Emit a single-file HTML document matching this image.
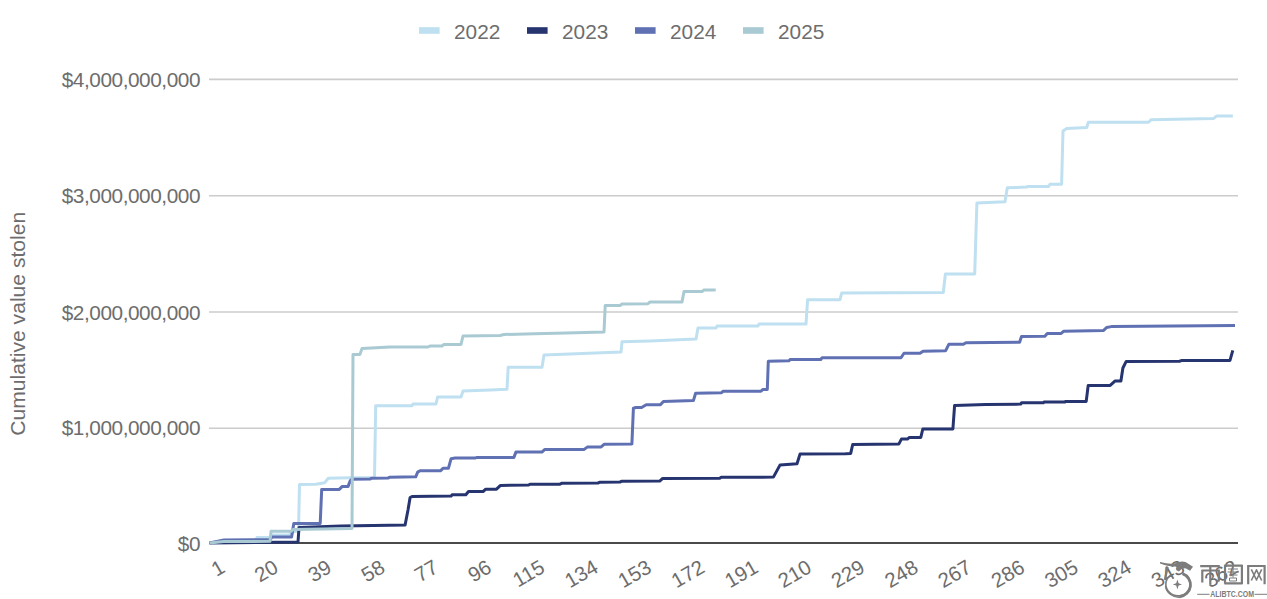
<!DOCTYPE html><html><head><meta charset="utf-8"><style>html,body{margin:0;padding:0;background:#fff;}svg{display:block;}text{font-family:"Liberation Sans",sans-serif;}</style></head><body>
<svg width="1267" height="599" viewBox="0 0 1267 599">
<rect width="1267" height="599" fill="#fff"/>
<line x1="209" y1="79.4" x2="1238" y2="79.4" stroke="#cccccc" stroke-width="1.6"/>
<line x1="209" y1="195.7" x2="1238" y2="195.7" stroke="#cccccc" stroke-width="1.6"/>
<line x1="209" y1="312.0" x2="1238" y2="312.0" stroke="#cccccc" stroke-width="1.6"/>
<line x1="209" y1="428.2" x2="1238" y2="428.2" stroke="#cccccc" stroke-width="1.6"/>
<text x="200" y="86.9" font-size="20.8" letter-spacing="-0.45" fill="#6d6d6d" text-anchor="end">$4,000,000,000</text>
<text x="200" y="203.3" font-size="20.8" letter-spacing="-0.45" fill="#6d6d6d" text-anchor="end">$3,000,000,000</text>
<text x="200" y="319.6" font-size="20.8" letter-spacing="-0.45" fill="#6d6d6d" text-anchor="end">$2,000,000,000</text>
<text x="200" y="435.3" font-size="20.8" letter-spacing="-0.45" fill="#6d6d6d" text-anchor="end">$1,000,000,000</text>
<text x="200" y="550.6" font-size="20.8" letter-spacing="-0.45" fill="#6d6d6d" text-anchor="end">$0</text>
<text transform="translate(24.8,323.8) rotate(-90)" font-size="21.1" fill="#6d6d6d" text-anchor="middle">Cumulative value stolen</text>
<rect x="419" y="27.2" width="20.6" height="6.6" fill="#bfe0f0"/>
<text x="454.0" y="38.7" font-size="20.8" fill="#6d6d6d">2022</text>
<rect x="527" y="27.2" width="20.6" height="6.6" fill="#26346f"/>
<text x="562.0" y="38.7" font-size="20.8" fill="#6d6d6d">2023</text>
<rect x="635" y="27.2" width="20.6" height="6.6" fill="#6071b3"/>
<text x="670.0" y="38.7" font-size="20.8" fill="#6d6d6d">2024</text>
<rect x="743" y="27.2" width="20.6" height="6.6" fill="#a9cad3"/>
<text x="778.0" y="38.7" font-size="20.8" fill="#6d6d6d">2025</text>
<text transform="translate(226.27,571.3) rotate(-30)" font-size="20.5" fill="#6d6d6d" text-anchor="end">1</text>
<text transform="translate(279.60,571.3) rotate(-30)" font-size="20.5" fill="#6d6d6d" text-anchor="end">20</text>
<text transform="translate(332.93,571.3) rotate(-30)" font-size="20.5" fill="#6d6d6d" text-anchor="end">39</text>
<text transform="translate(386.26,571.3) rotate(-30)" font-size="20.5" fill="#6d6d6d" text-anchor="end">58</text>
<text transform="translate(439.59,571.3) rotate(-30)" font-size="20.5" fill="#6d6d6d" text-anchor="end">77</text>
<text transform="translate(492.92,571.3) rotate(-30)" font-size="20.5" fill="#6d6d6d" text-anchor="end">96</text>
<text transform="translate(546.25,571.3) rotate(-30)" font-size="20.5" fill="#6d6d6d" text-anchor="end">115</text>
<text transform="translate(599.58,571.3) rotate(-30)" font-size="20.5" fill="#6d6d6d" text-anchor="end">134</text>
<text transform="translate(652.91,571.3) rotate(-30)" font-size="20.5" fill="#6d6d6d" text-anchor="end">153</text>
<text transform="translate(706.24,571.3) rotate(-30)" font-size="20.5" fill="#6d6d6d" text-anchor="end">172</text>
<text transform="translate(759.57,571.3) rotate(-30)" font-size="20.5" fill="#6d6d6d" text-anchor="end">191</text>
<text transform="translate(812.90,571.3) rotate(-30)" font-size="20.5" fill="#6d6d6d" text-anchor="end">210</text>
<text transform="translate(866.23,571.3) rotate(-30)" font-size="20.5" fill="#6d6d6d" text-anchor="end">229</text>
<text transform="translate(919.56,571.3) rotate(-30)" font-size="20.5" fill="#6d6d6d" text-anchor="end">248</text>
<text transform="translate(972.89,571.3) rotate(-30)" font-size="20.5" fill="#6d6d6d" text-anchor="end">267</text>
<text transform="translate(1026.22,571.3) rotate(-30)" font-size="20.5" fill="#6d6d6d" text-anchor="end">286</text>
<text transform="translate(1079.55,571.3) rotate(-30)" font-size="20.5" fill="#6d6d6d" text-anchor="end">305</text>
<text transform="translate(1132.88,571.3) rotate(-30)" font-size="20.5" fill="#6d6d6d" text-anchor="end">324</text>
<text transform="translate(1186.21,571.3) rotate(-30)" font-size="20.5" fill="#6d6d6d" text-anchor="end">343</text>
<text transform="translate(1239.54,571.3) rotate(-30)" font-size="20.5" fill="#6d6d6d" text-anchor="end">362</text>
<line x1="209" y1="543" x2="1238" y2="543" stroke="#4a4a4a" stroke-width="2.2"/>
<polyline points="209.5,543 224,540.5 256,540 257,537.5 271,537.5 272,535 290,535 291,532 298.5,531 299.5,484.6 316,484.2 324.6,482.8 328.3,478.2 350,477.8 374.5,477.6 375.7,405.8 412,405.8 413,404 436,404 437.6,397.1 461,397.1 463,391 490,390 507,389.2 508.2,367.2 542,367.2 544,355.1 576,353.7 621,352 622,341.7 650,341 696,339.1 698,328.1 716,328.1 717,326.1 758,326.1 759,324.1 806,324.1 807.6,299.7 840,299.7 841.7,293.1 943.3,292.5 945.4,274 974.7,274 976.9,203 1005,201.7 1007.3,187.8 1026.8,187.1 1027.5,186.5 1048.6,186.5 1050,184.3 1061.6,184.3 1063,130.9 1066.7,128.4 1086.7,127.5 1088.4,122.2 1148.5,122.2 1151,119.7 1213.6,118.4 1217,115.9 1232.8,115.9" fill="none" stroke="#bfe0f0" stroke-width="3" stroke-linejoin="round" stroke-linecap="butt"/>
<polyline points="209.5,543 298,542 299,527.6 340.9,525.9 405.1,525 408,510 410.1,497.5 412,496.6 451.1,496.1 452,494.8 465.8,494.8 468.5,491.5 483.1,491.5 485.8,489.2 496.5,489.2 500.5,485.4 528.6,485 530,484.2 560,484.2 562,483.2 598,483 600,482.2 620,482 622,481.2 659.7,481.1 662.7,478.4 720,478.2 721,477.3 773.4,477.1 780.1,464.9 797,463.8 800,454.1 845.5,453.7 850.7,453.4 852.7,444.5 898.8,444.1 901.4,439.1 907.4,439.1 909.4,437.4 920.8,437.4 922.8,429 952.9,429 954.6,405.4 985.6,404.5 1020.7,404.1 1021.5,402.8 1043.4,402.8 1044,402.1 1064.8,402.1 1065.5,401.4 1086.2,401.4 1088.2,385.4 1110.2,385.4 1114.9,381.1 1120.9,381.1 1122.9,368 1126.2,361.4 1179.5,361.2 1182,360.4 1230,360.4 1232.8,350.4" fill="none" stroke="#26346f" stroke-width="3" stroke-linejoin="round" stroke-linecap="butt"/>
<polyline points="209.5,543 224,540 270,539.8 271.8,537.1 291.6,537.1 293.8,523.5 320.2,523.5 321.7,489.4 339.3,489.4 342.3,486.4 348.1,486.4 350.3,480.6 352,479.2 370,479 372,478.2 388,478 390,477.2 415.7,476.8 417.7,472.1 420,470.8 440.4,470.8 443,468.3 448.4,468.3 451.1,458.7 455,458.1 475,458.1 477,457.4 513.9,457.4 515.9,452.1 541.9,452.1 544.6,449.6 583.8,449.6 587.6,446.9 601.1,446.9 604.1,444.3 631.9,443.9 633.4,408.3 636,407.5 641.6,407.5 646.2,404.8 660.4,404.8 663.4,401.5 693.4,400.6 695.6,393.3 721.5,392.8 723,391.2 761,391.2 763,389.4 767.3,389.4 768.3,361.3 789,360.8 790,359.6 820.7,359.5 822,357.8 901,357.8 904,353.2 920,353.2 923,351.2 945.7,350.7 948.8,344.3 963.4,344.3 965.9,342.8 1019.6,342.2 1021.5,336.5 1044.8,336.3 1047.3,333.4 1061.2,333.4 1063.8,331.2 1103.6,330.4 1106.6,327.5 1111.3,326.6 1235,325.5" fill="none" stroke="#6071b3" stroke-width="3" stroke-linejoin="round" stroke-linecap="butt"/>
<polyline points="209.5,543 224,541.6 270,541.3 271,531.3 291,531.3 293,529.6 352,528.4 353,354.4 360,354.4 362,348.4 390,347 428,347 430,346 442,346 444,344.4 461,344.4 463,336 500,335.5 504,334.5 534,333.7 566,333 604,332 605.2,305.6 620,305.6 622,304 648,303.7 650,302 682,302 684,291.6 702,291.6 704,290 715.7,290" fill="none" stroke="#a9cad3" stroke-width="3" stroke-linejoin="round" stroke-linecap="butt"/>
<g fill="none" stroke="#7c7c7c" stroke-linecap="butt">
<!-- logo ring -->
<path d="M1171,574.8 A12.3,11.6 0 1 0 1183.5,573.8" stroke-width="1.6"/>
<path d="M1182.5,573.6 A12.8,12.1 0 0 1 1179.5,596.8" stroke-width="2.8"/>
<path d="M1165.5,586 A13.4,12.2 0 0 0 1180,597.2" stroke-width="1.3"/>
<path d="M1177.4,579.6 L1178.6,583.2 L1182,584.4 L1178.6,585.6 L1177.4,589.2 L1176.2,585.6 L1172.8,584.4 L1176.2,583.2 Z" fill="#7c7c7c" stroke="none"/>
<!-- ribbon -->
<path d="M1160,562 Q1170,564.5 1175,563.2 Q1181,560.5 1185.5,562 L1193,566.8 L1190,570.8 L1186,568.5 Q1182,567.5 1179,571.5 L1176,570 Q1178,566 1174,566.5 Q1168,566.5 1160,563.6 Z" fill="#7c7c7c" stroke="none"/>
<path d="M1167.5,567 L1165,580" stroke-width="2.2"/>
<!-- 币 -->
<path d="M1200.2,566.1 H1219.8 M1202.3,569.8 V582.5 M1201.8,570.5 H1218.8 V580.5 L1216.5,581.5 M1210.3,566 V584.5" stroke-width="2.2"/>
<!-- 圈 -->
<path d="M1225,565 V583.6 M1224.3,565.6 H1242.5 M1241.9,565 V584 M1224.3,583.3 H1242.5" stroke-width="2.2"/>
<path d="M1228,569 H1238 M1227.5,572 H1239 M1229,575 H1237.5 M1233,567 V577.5 M1229.5,578 H1236.5 V581 H1229.5 Z" stroke-width="1"/>
<!-- 网 -->
<path d="M1248.2,584.2 V566 H1264.6 V584.2" stroke-width="2.2"/>
<path d="M1251.3,569.3 L1256.8,580.5 M1256.8,569.3 L1251.3,580.5 M1256.2,569.3 L1261.7,580.5 M1261.7,569.3 L1256.2,580.5" stroke-width="1.6"/>
<!-- lines -->
<path d="M1197.2,594.3 H1209.5 M1254.5,594.3 H1267" stroke-width="1"/>
</g>
<text x="1232.2" y="596.9" font-size="9.4" font-weight="bold" fill="#7c7c7c" text-anchor="middle" textLength="43.8" lengthAdjust="spacingAndGlyphs">ALIBTC.COM</text>

</svg></body></html>
